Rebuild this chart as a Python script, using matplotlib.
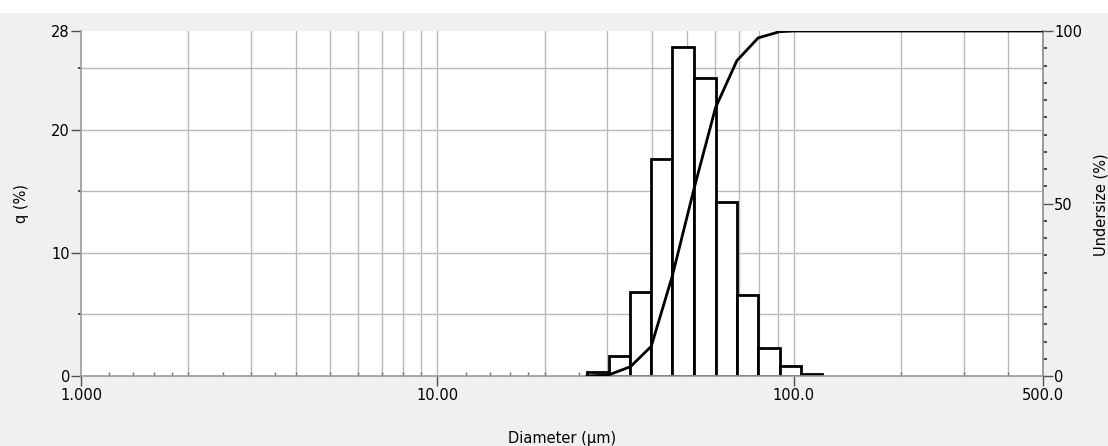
import numpy as np
from matplotlib import pyplot as plt
from matplotlib.patches import Rectangle

# bin edges (um) and frequency q (%)
bin_edges = [26.3, 30.2, 34.8, 39.8, 45.6, 52.5, 60.3, 69.2, 79.4, 91.2, 104.7, 120.2]
q_values = [0.35, 1.6, 6.8, 17.6, 26.7, 24.2, 14.1, 6.55, 2.3, 0.8, 0.2]

# cumulative undersize curve (%)
cum_diam = [26.3, 30.2, 34.8, 39.8, 45.6, 52.5, 60.3, 69.2, 79.4, 91.2, 100.0, 500.0]
cum_values = [0.0, 0.3, 2.7, 8.6, 29.0, 54.4, 77.8, 91.4, 98.0, 99.8, 100.0, 100.0]

x_ticks = [1, 10, 100, 500]
x_tick_labels = ["1.000", "10.00", "100.0", "500.0"]
x_grid = [2, 3, 4, 5, 6, 7, 8, 9, 20, 30, 40, 50, 60, 70, 80, 90, 200, 300, 400]

W, H = 1108, 446
FS = 10.5
fig = plt.figure(figsize=(W / 100, H / 100), dpi=100, facecolor="#f0f0f0")
plt.rcParams["font.family"] = ["DejaVu Sans"]
fig.patches.append(Rectangle((0, 1 - 13 / H), 1, 13 / H, transform=fig.transFigure,
                             facecolor="white", edgecolor="none", zorder=-1))

left, right, top, bottom = 81, 1043, 31, 376
ax = fig.add_axes([left / W, 1 - bottom / H, (right - left) / W, (bottom - top) / H])
ax.set_facecolor("white")
ax.set_xscale("log")
ax.set_xlim(1, 500)
ax.set_ylim(0, 28)

grid_color = "#b9b9b9"
for g in x_grid + [10, 100]:
    ax.axvline(g, color=grid_color, lw=1, zorder=0)
for g in [5, 10, 15, 20, 25]:
    ax.axhline(g, color=grid_color, lw=1, zorder=0)

# histogram bars (outline only)
widths = np.diff(bin_edges)
ax.bar(bin_edges[:-1], q_values, width=widths, align="edge", facecolor="white",
       edgecolor="black", linewidth=2.0, zorder=2)

ax.spines["top"].set_visible(False)
for s in ["left", "bottom", "right"]:
    ax.spines[s].set_color("#9a9a9a")
    ax.spines[s].set_linewidth(1.2)

ax.set_xticks(x_ticks)
ax.set_xticklabels(x_tick_labels)
minor_x = [1.2, 1.4, 1.6, 1.8, 2.5, 3.5, 12, 14, 16, 18, 25, 35] + x_grid
ax.set_xticks(minor_x, minor=True)
ax.xaxis.set_minor_formatter(plt.NullFormatter())
ax.tick_params(axis="x", which="major", length=7, width=1, color="#505050",
               labelsize=FS, pad=2, direction="out")
ax.tick_params(axis="x", which="minor", length=3, width=1, color="#707070", direction="in")

ax.set_yticks([0, 10, 20, 28])
ax.set_yticks([5, 15, 25], minor=True)
ax.tick_params(axis="y", which="major", length=7, width=1, color="#505050",
               labelsize=FS, pad=1)
ax.tick_params(axis="y", which="minor", length=2, width=1.5, color="#505050")
ax.yaxis.get_major_ticks()[-1].tick1line.set_visible(False)
ax.set_ylabel("q (%)", fontsize=FS, labelpad=16)
ax.set_xlabel("Diameter (µm)", fontsize=FS, labelpad=20)

ax2 = ax.twinx()
ax2.set_ylim(0, 100)
ax2.plot(cum_diam, cum_values, color="black", lw=2.0, zorder=3)
ax2.set_yticks([0, 50, 100])
ax2.set_yticks(np.arange(5, 100, 5), minor=True)
ax2.tick_params(axis="y", which="major", length=7, width=1, color="#505050",
                labelsize=FS, pad=1)
ax2.tick_params(axis="y", which="minor", length=3, width=1.5, color="#505050")
for s in ["top", "left", "bottom"]:
    ax2.spines[s].set_visible(False)
ax2.spines["right"].set_color("#9a9a9a")
ax2.spines["right"].set_linewidth(1.2)
fig.text(1101 / W, 1 - 205 / H, "Undersize (%)", rotation=90, ha="center", va="center",
         fontsize=FS)

fig.savefig("out.png", dpi=100, facecolor=fig.get_facecolor())
